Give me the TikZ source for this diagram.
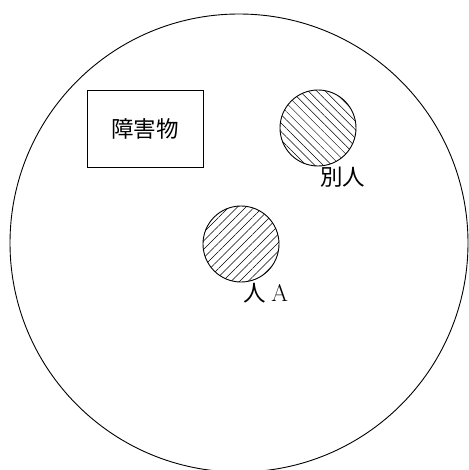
\documentclass[tikz,border=0pt]{standalone}
\usepackage{fontspec}
\newfontfamily\cjk{Noto Sans CJK JP}
\usetikzlibrary{patterns.meta}
\begin{document}
\begin{tikzpicture}[x=1pt,y=-1pt,
  edge/.style={line width=0.9pt},
  person/.style={draw, circle, edge, inner sep=0pt, minimum size=76pt},
  lbl/.style={inner sep=0pt, font=\fontsize{22.5}{22.5}\selectfont}
]
\useasboundingbox (0,0) rectangle (468,470);
\node[draw, circle, edge, inner sep=0pt, minimum size=458pt] (area) at (239,243) {};
\node[draw, rectangle, edge, minimum width=116pt, minimum height=77pt, inner sep=0pt,
      font=\cjk\fontsize{22.5}{22.5}\selectfont] (obst) at (145,128.5) {障害物};
\node[person, pattern={Lines[angle=-45,distance=6pt,line width=0.5pt]}] (other) at (318,128) {};
\node[person, pattern={Lines[angle=45,distance=6pt,line width=0.5pt]}] (pa) at (241,244) {};
\node[lbl] (otherlbl) at (342.5,177) {\cjk 別人};
\node[lbl] (palbl) at (266,293) {\cjk 人\ \rmfamily\fontsize{24}{24}\selectfont A};
\end{tikzpicture}
\end{document}
